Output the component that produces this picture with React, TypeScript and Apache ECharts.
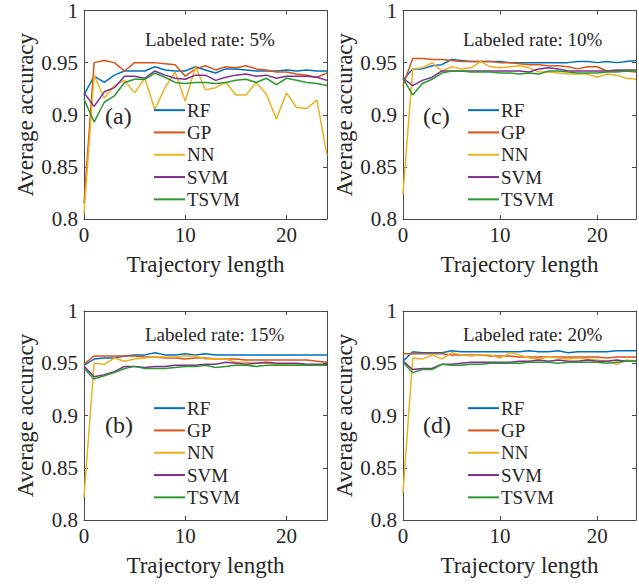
import React, { useEffect, useRef } from "react";
import * as echarts from "echarts";

const trajectoryLengths = [0, 1, 2, 3, 4, 5, 6, 7, 8, 9, 10, 11, 12, 13, 14, 15, 16, 17, 18, 19, 20, 21, 22, 23, 24];
const methods = ["RF", "GP", "NN", "SVM", "TSVM"];
const xTicks = [0, 10, 20];
const yTicks = [0.8, 0.85, 0.9, 0.95, 1];

// Labeled rate 5% (a)
const rf5 = [0.919, 0.937, 0.931, 0.938, 0.942, 0.942, 0.942, 0.946, 0.943, 0.942, 0.942, 0.946, 0.943, 0.940, 0.944, 0.944, 0.943, 0.942, 0.942, 0.942, 0.943, 0.942, 0.943, 0.942, 0.942];
const gp5 = [0.815, 0.950, 0.952, 0.950, 0.942, 0.950, 0.950, 0.950, 0.949, 0.948, 0.937, 0.944, 0.947, 0.943, 0.946, 0.945, 0.947, 0.944, 0.943, 0.941, 0.941, 0.939, 0.938, 0.936, 0.940];
const nn5 = [0.805, 0.938, 0.916, 0.928, 0.933, 0.921, 0.935, 0.905, 0.926, 0.941, 0.913, 0.946, 0.924, 0.926, 0.931, 0.919, 0.919, 0.931, 0.920, 0.896, 0.921, 0.907, 0.906, 0.914, 0.861];
const svm5 = [0.921, 0.908, 0.922, 0.926, 0.937, 0.937, 0.935, 0.942, 0.938, 0.935, 0.934, 0.938, 0.938, 0.933, 0.936, 0.938, 0.939, 0.937, 0.938, 0.935, 0.937, 0.937, 0.937, 0.936, 0.933];
const tsvm5 = [0.915, 0.893, 0.912, 0.918, 0.931, 0.934, 0.934, 0.940, 0.936, 0.931, 0.930, 0.931, 0.931, 0.930, 0.931, 0.933, 0.934, 0.931, 0.935, 0.929, 0.935, 0.933, 0.931, 0.930, 0.928];

// Labeled rate 10% (c)
const rf10 = [0.933, 0.944, 0.944, 0.947, 0.948, 0.953, 0.952, 0.951, 0.951, 0.951, 0.951, 0.950, 0.950, 0.950, 0.950, 0.950, 0.950, 0.950, 0.951, 0.951, 0.950, 0.951, 0.950, 0.951, 0.952];
const gp10 = [0.928, 0.954, 0.954, 0.953, 0.953, 0.952, 0.951, 0.951, 0.951, 0.951, 0.950, 0.950, 0.949, 0.948, 0.948, 0.947, 0.947, 0.946, 0.944, 0.946, 0.946, 0.942, 0.942, 0.942, 0.941];
const nn10 = [0.824, 0.944, 0.945, 0.950, 0.942, 0.946, 0.944, 0.945, 0.951, 0.946, 0.945, 0.946, 0.947, 0.945, 0.941, 0.941, 0.940, 0.939, 0.939, 0.939, 0.936, 0.939, 0.938, 0.935, 0.934];
const svm10 = [0.935, 0.928, 0.933, 0.936, 0.942, 0.942, 0.942, 0.942, 0.942, 0.942, 0.942, 0.942, 0.942, 0.941, 0.944, 0.945, 0.944, 0.942, 0.942, 0.942, 0.942, 0.942, 0.943, 0.943, 0.943];
const tsvm10 = [0.935, 0.919, 0.930, 0.934, 0.940, 0.942, 0.942, 0.941, 0.941, 0.941, 0.940, 0.940, 0.939, 0.940, 0.939, 0.942, 0.942, 0.941, 0.940, 0.940, 0.940, 0.941, 0.941, 0.942, 0.942];

// Labeled rate 15% (b)
const rf15 = [0.948, 0.954, 0.955, 0.955, 0.957, 0.958, 0.958, 0.960, 0.958, 0.958, 0.959, 0.958, 0.959, 0.958, 0.958, 0.958, 0.958, 0.958, 0.958, 0.958, 0.958, 0.958, 0.958, 0.958, 0.958];
const gp15 = [0.949, 0.957, 0.957, 0.957, 0.957, 0.957, 0.956, 0.956, 0.955, 0.955, 0.954, 0.955, 0.955, 0.954, 0.954, 0.954, 0.953, 0.953, 0.953, 0.953, 0.953, 0.953, 0.953, 0.952, 0.951];
const nn15 = [0.822, 0.950, 0.949, 0.955, 0.952, 0.954, 0.955, 0.956, 0.956, 0.956, 0.957, 0.957, 0.954, 0.954, 0.954, 0.951, 0.951, 0.950, 0.950, 0.949, 0.949, 0.949, 0.948, 0.948, 0.948];
const svm15 = [0.947, 0.937, 0.939, 0.942, 0.947, 0.947, 0.946, 0.947, 0.947, 0.948, 0.948, 0.948, 0.949, 0.949, 0.951, 0.950, 0.949, 0.950, 0.951, 0.950, 0.950, 0.950, 0.949, 0.949, 0.949];
const tsvm15 = [0.945, 0.935, 0.938, 0.941, 0.945, 0.947, 0.945, 0.945, 0.945, 0.946, 0.947, 0.947, 0.948, 0.946, 0.947, 0.948, 0.948, 0.947, 0.948, 0.948, 0.948, 0.948, 0.948, 0.948, 0.948];

// Labeled rate 20% (d)
const rf20 = [0.952, 0.961, 0.960, 0.960, 0.960, 0.962, 0.961, 0.961, 0.961, 0.961, 0.961, 0.961, 0.961, 0.962, 0.961, 0.961, 0.962, 0.960, 0.961, 0.961, 0.961, 0.961, 0.962, 0.962, 0.962];
const gp20 = [0.959, 0.959, 0.959, 0.959, 0.959, 0.958, 0.958, 0.958, 0.958, 0.957, 0.957, 0.957, 0.956, 0.956, 0.956, 0.956, 0.956, 0.956, 0.956, 0.956, 0.956, 0.955, 0.956, 0.956, 0.956];
const nn20 = [0.826, 0.955, 0.954, 0.958, 0.954, 0.960, 0.958, 0.957, 0.958, 0.958, 0.955, 0.960, 0.958, 0.955, 0.954, 0.956, 0.955, 0.954, 0.955, 0.954, 0.953, 0.952, 0.949, 0.953, 0.952];
const svm20 = [0.952, 0.944, 0.945, 0.945, 0.949, 0.949, 0.950, 0.951, 0.951, 0.951, 0.951, 0.951, 0.952, 0.952, 0.953, 0.952, 0.953, 0.952, 0.952, 0.953, 0.952, 0.952, 0.953, 0.952, 0.952];
const tsvm20 = [0.951, 0.941, 0.944, 0.944, 0.949, 0.948, 0.948, 0.949, 0.949, 0.950, 0.950, 0.950, 0.950, 0.951, 0.951, 0.951, 0.950, 0.951, 0.951, 0.951, 0.951, 0.950, 0.951, 0.952, 0.952];

const panelLetters = ["(a)", "(c)", "(b)", "(d)"];
const panelRates = ["Labeled rate: 5%", "Labeled rate: 10%", "Labeled rate: 15%", "Labeled rate: 20%"];
const panelData = [
  [rf5, gp5, nn5, svm5, tsvm5],
  [rf10, gp10, nn10, svm10, tsvm10],
  [rf15, gp15, nn15, svm15, tsvm15],
  [rf20, gp20, nn20, svm20, tsvm20],
];

const COLORS = ["#0072BD", "#D95319", "#EDB120", "#7E2F8E", "#2A9A2F"];
const FONT = "'Liberation Serif', 'Times New Roman', serif";
const AXIS_COLOR = "#4a4a4a";
const TEXT_COLOR = "#262626";

// layout (pixels)
const GRIDS = [
  { left: 84, top: 10 },
  { left: 403, top: 10 },
  { left: 84, top: 311 },
  { left: 403, top: 311 },
];
const GW = 243;
const GH = 209;

export default function App() {
  const ref = useRef<HTMLDivElement>(null);
  useEffect(() => {
    if (!ref.current) return;
    const chart = echarts.init(ref.current, null, { renderer: "svg" });

    const grid: any[] = [];
    const xAxis: any[] = [];
    const yAxis: any[] = [];
    const series: any[] = [];
    const legend: any[] = [];
    const graphic: any[] = [];

    GRIDS.forEach((g, i) => {
      grid.push({ left: g.left, top: g.top, width: GW, height: GH, containLabel: false });
      const axisLineStyle = { color: AXIS_COLOR, width: 1 };
      // primary x
      xAxis.push({
        type: "value",
        gridIndex: i,
        min: xTicks[0],
        max: trajectoryLengths[trajectoryLengths.length - 1],
        interval: xTicks[1] - xTicks[0],
        position: "bottom",
        name: "Trajectory length",
        nameLocation: "middle",
        nameGap: 34,
        nameTextStyle: { fontFamily: FONT, fontSize: 23, color: TEXT_COLOR },
        axisLine: { show: true, lineStyle: axisLineStyle },
        axisTick: { show: true, inside: true, length: 4, lineStyle: axisLineStyle },
        axisLabel: {
          fontFamily: FONT,
          fontSize: 21,
          color: TEXT_COLOR,
          margin: 5,
          formatter: (v: number) => (xTicks.includes(v) ? String(v) : ""),
        },
        splitLine: { show: false },
      });
      // top box x
      xAxis.push({
        type: "value",
        gridIndex: i,
        min: xTicks[0],
        max: trajectoryLengths[trajectoryLengths.length - 1],
        interval: xTicks[1] - xTicks[0],
        position: "top",
        axisLine: { show: true, onZero: false, lineStyle: axisLineStyle },
        axisTick: { show: true, inside: true, length: 4, lineStyle: axisLineStyle },
        axisLabel: { show: false },
        splitLine: { show: false },
      });
      yAxis.push({
        type: "value",
        gridIndex: i,
        min: yTicks[0],
        max: yTicks[yTicks.length - 1],
        interval: 0.05,
        position: "left",
        name: "Average accuracy",
        nameLocation: "middle",
        nameGap: 47,
        nameTextStyle: { fontFamily: FONT, fontSize: 23, color: TEXT_COLOR },
        axisLine: { show: true, lineStyle: axisLineStyle },
        axisTick: { show: true, inside: true, length: 4, lineStyle: axisLineStyle },
        axisLabel: {
          fontFamily: FONT,
          fontSize: 21,
          color: TEXT_COLOR,
          margin: 6,
          formatter: (v: number) => String(+v.toFixed(2)),
        },
        splitLine: { show: false },
      });
      yAxis.push({
        type: "value",
        gridIndex: i,
        min: yTicks[0],
        max: yTicks[yTicks.length - 1],
        interval: 0.05,
        position: "right",
        axisLine: { show: true, onZero: false, lineStyle: axisLineStyle },
        axisTick: { show: true, inside: true, length: 4, lineStyle: axisLineStyle },
        axisLabel: { show: false },
        splitLine: { show: false },
      });

      methods.forEach((m, k) => {
        series.push({
          type: "line",
          name: m,
          xAxisIndex: i * 2,
          yAxisIndex: i * 2,
          data: trajectoryLengths.map((x, j) => [x, panelData[i][k][j]]),
          showSymbol: false,
          symbol: "none",
          lineStyle: { color: COLORS[k], width: 1.5 },
          itemStyle: { color: COLORS[k] },
          clip: true,
        });
      });

      const legendLeft = i % 2 === 0 ? 154 : 468;
      const legendTop = i < 2 ? 99 : 397;
      legend.push({
        data: methods,
        orient: "vertical",
        left: legendLeft,
        top: legendTop,
        padding: 0,
        itemGap: 0,
        itemWidth: 31,
        itemHeight: 2,
        icon: "rect",
        selectedMode: false,
        textStyle: { fontFamily: FONT, fontSize: 19, color: TEXT_COLOR, lineHeight: 22.3, padding: [0, 0, 0, -3] },
      });

      graphic.push({
        type: "text",
        left: i % 2 === 0 ? 145 : 463,
        top: i < 2 ? 30 : 325,
        style: { text: panelRates[i], font: `19px ${FONT}`, fill: TEXT_COLOR },
      });
      graphic.push({
        type: "text",
        left: i % 2 === 0 ? 105 : 423,
        top: i < 2 ? 104 : 413,
        style: { text: panelLetters[i], font: `24px ${FONT}`, fill: TEXT_COLOR },
      });
    });

    chart.setOption({
      animation: false,
      backgroundColor: "#ffffff",
      grid,
      xAxis,
      yAxis,
      series,
      legend,
      graphic,
    });
    return () => chart.dispose();
  }, []);

  return (
    <div
      ref={ref}
      style={{ position: "fixed", left: 0, top: 0, width: 639, height: 584, overflow: "hidden" }}
    />
  );
}
